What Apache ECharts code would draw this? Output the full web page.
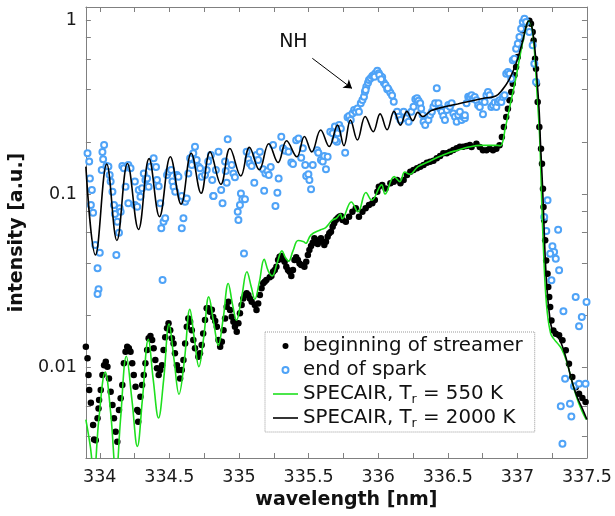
<!DOCTYPE html>
<html><head><meta charset="utf-8">
<script src="https://cdn.jsdelivr.net/npm/echarts@6/dist/echarts.min.js"></script>
<style>html,body{margin:0;padding:0;background:#fff}#c{width:615px;height:516px}</style>
</head><body><div id="c"></div>
<script>
// ---- data (wavelength nm, intensity a.u.) ----
const streamer = [[333.900,0.01315],[333.912,0.01127],[333.919,0.00903],[333.924,0.0074],[333.936,0.00625],[333.952,0.00465],[333.959,0.00384],[333.971,0.0038],[333.984,0.00508],[333.991,0.0058],[333.995,0.00648],[334.007,0.0074],[334.019,0.00903],[334.031,0.0103],[334.043,0.01076],[334.055,0.01008],[334.066,0.00864],[334.078,0.00723],[334.091,0.00606],[334.102,0.00508],[334.114,0.00425],[334.126,0.00372],[334.138,0.00567],[334.150,0.00663],[334.162,0.00791],[334.173,0.01055],[334.185,0.0123],[334.197,0.01315],[334.209,0.01288],[334.221,0.0123],[334.233,0.01055],[334.244,0.00903],[334.257,0.00773],[334.269,0.00567],[334.276,0.00486],[334.280,0.00554],[334.292,0.00677],[334.304,0.00791],[334.316,0.00903],[334.328,0.01055],[334.340,0.01259],[334.351,0.0147],[334.364,0.01516],[334.376,0.01437],[334.387,0.01288],[334.399,0.01102],[334.411,0.00987],[334.423,0.00903],[334.435,0.00965],[334.447,0.0103],[334.458,0.01259],[334.470,0.0149],[334.483,0.0168],[334.494,0.01795],[334.506,0.0164],[334.518,0.0147],[334.530,0.01375],[334.540,0.01205],[334.554,0.0103],[334.565,0.00965],[334.577,0.00864],[334.589,0.00965],[334.601,0.01102],[334.613,0.01375],[334.625,0.01715],[334.636,0.01917],[334.649,0.01833],[334.661,0.0164],[334.672,0.01437],[334.684,0.01288],[334.708,0.01151],[334.720,0.01205],[334.732,0.01345],[334.743,0.0157],[334.756,0.01875],[334.768,0.0219],[334.779,0.0219],[334.791,0.02094],[334.805,0.0215],[334.815,0.0195],[334.829,0.0185],[334.841,0.01715],[334.853,0.01437],[334.865,0.01315],[334.877,0.01406],[334.889,0.0164],[334.900,0.01917],[334.912,0.02238],[334.924,0.0239],[334.936,0.02142],[334.948,0.0196],[334.960,0.01833],[334.971,0.01715],[334.984,0.01605],[334.996,0.01795],[335.007,0.0205],[335.019,0.02288],[335.031,0.025],[335.043,0.02614],[335.055,0.02673],[335.067,0.02614],[335.078,0.025],[335.091,0.0239],[335.114,0.02288],[335.126,0.02142],[335.138,0.0234],[335.150,0.02614],[335.162,0.02857],[335.174,0.03053],[335.185,0.0312],[335.197,0.0319],[335.221,0.03306],[335.233,0.03365],[335.245,0.03562],[335.257,0.0364],[335.269,0.03806],[335.281,0.0416],[335.292,0.04348],[335.304,0.04387],[335.316,0.04198],[335.328,0.04065],[335.340,0.03806],[335.352,0.0364],[335.364,0.03562],[335.376,0.03365],[335.388,0.0364],[335.399,0.0416],[335.411,0.04312],[335.423,0.0416],[335.435,0.0398],[335.447,0.0389],[335.470,0.03806],[335.483,0.04065],[335.495,0.04446],[335.506,0.04753],[335.518,0.0501],[335.530,0.05236],[335.542,0.05552],[335.554,0.05236],[335.566,0.05145],[335.577,0.05428],[335.589,0.05552],[335.602,0.0531],[335.613,0.0508],[335.625,0.0531],[335.637,0.05671],[335.649,0.05931],[335.661,0.06059],[335.673,0.06476],[335.684,0.06776],[335.696,0.07079],[335.708,0.0724],[335.720,0.07396],[335.732,0.07468],[335.744,0.07079],[335.768,0.06918],[335.791,0.07396],[335.815,0.07907],[335.839,0.08269],[335.862,0.07396],[335.887,0.07907],[335.910,0.08269],[335.934,0.08642],[335.958,0.08839],[335.976,0.09235],[335.994,0.1031],[336.005,0.1102],[336.029,0.1127],[336.053,0.1078],[336.088,0.1153],[336.112,0.1178],[336.136,0.1205],[336.160,0.1153],[336.183,0.1205],[336.207,0.1288],[336.231,0.1345],[336.254,0.1375],[336.279,0.1407],[336.302,0.1438],[336.326,0.147],[336.350,0.1516],[336.373,0.1536],[336.397,0.1557],[336.421,0.1607],[336.445,0.1657],[336.468,0.1718],[336.493,0.1718],[336.516,0.1754],[336.540,0.1795],[336.564,0.1836],[336.587,0.1875],[336.611,0.1875],[336.635,0.1892],[336.659,0.1919],[336.671,0.1866],[336.706,0.195],[336.730,0.1866],[336.753,0.1788],[336.778,0.1788],[336.801,0.1825],[336.825,0.1788],[336.849,0.1825],[336.872,0.191],[336.889,0.2133],[336.903,0.2435],[336.920,0.278],[336.932,0.3105],[336.944,0.3472],[336.956,0.3878],[336.967,0.433],[336.979,0.484],[336.991,0.5405],[337.003,0.6173],[337.015,0.705],[337.027,0.787],[337.039,0.880],[337.051,0.941],[337.070,0.996],[337.086,1.0],[337.098,0.961],[337.110,0.861],[337.117,0.770],[337.127,0.604],[337.134,0.529],[337.141,0.433],[337.146,0.3395],[337.158,0.2435],[337.170,0.1825],[337.177,0.1495],[337.184,0.1073],[337.188,0.0841],[337.193,0.0705],[337.200,0.0541],[337.207,0.04143],[337.217,0.03468],[337.222,0.02906],[337.229,0.02545],[337.236,0.02228],[337.245,0.01867],[337.259,0.01634],[337.276,0.01563],[337.300,0.0153],[337.324,0.01432],[337.348,0.01254],[337.371,0.0105],[337.395,0.00879],[337.419,0.00769],[337.443,0.00704],[337.467,0.00665],[337.490,0.00631]];

const spark = [[333.912,0.172],[333.924,0.154],[333.929,0.123],[333.943,0.1055],[333.936,0.0865],[333.952,0.078],[333.967,0.0508],[333.984,0.0373],[334.000,0.0458],[333.991,0.0282],[333.984,0.0265],[334.019,0.175],[334.031,0.192],[334.024,0.159],[334.014,0.1375],[334.048,0.145],[334.062,0.144],[334.071,0.1287],[334.078,0.118],[334.091,0.103],[334.102,0.0865],[334.109,0.0767],[334.126,0.0692],[334.138,0.0598],[334.119,0.0445],[334.143,0.0827],[334.150,0.079],[334.162,0.145],[334.173,0.141],[334.185,0.110],[334.205,0.0884],[334.205,0.147],[334.221,0.141],[334.252,0.118],[334.252,0.0865],[334.269,0.0845],[334.280,0.1055],[334.292,0.0965],[334.304,0.108],[334.316,0.1316],[334.328,0.1205],[334.340,0.123],[334.351,0.110],[334.364,0.144],[334.387,0.161],[334.404,0.143],[334.411,0.1205],[334.423,0.111],[334.435,0.0884],[334.442,0.0634],[334.458,0.0692],[334.470,0.0724],[334.451,0.0319],[334.483,0.1287],[334.494,0.1345],[334.513,0.1375],[334.522,0.118],[334.530,0.110],[334.542,0.103],[334.554,0.1287],[334.565,0.126],[334.589,0.0973],[334.601,0.0724],[334.589,0.0634],[334.613,0.0903],[334.625,0.0944],[334.636,0.1316],[334.649,0.161],[334.661,0.147],[334.672,0.172],[334.684,0.1875],[334.696,0.157],[334.708,0.144],[334.720,0.141],[334.732,0.126],[334.756,0.1287],[334.768,0.1375],[334.779,0.154],[334.798,0.168],[334.808,0.1205],[334.815,0.0973],
[334.817,0.0973],[334.853,0.1755],[334.834,0.1375],[334.872,0.1055],[334.882,0.0884],[334.900,0.154],[334.905,0.136],[334.912,0.1162],[334.919,0.207],[334.948,0.147],[334.960,0.1316],[334.971,0.125],[335.014,0.1006],[335.007,0.0865],[335.024,0.0933],[335.043,0.0933],[334.991,0.079],[334.996,0.0708],[335.036,0.0454],[335.055,0.1755],[335.067,0.159],[335.078,0.150],[335.091,0.145],[335.110,0.1162],[335.126,0.168],[335.138,0.157],[335.150,0.1755],[335.174,0.139],[335.181,0.1045],[335.190,0.1316],[335.205,0.136],[335.214,0.1287],[335.228,0.143],[335.245,0.192],[335.262,0.0853],[335.276,0.1017],[335.285,0.123],[335.304,0.214],[335.316,0.1836],[335.333,0.178],[335.356,0.1755],[335.376,0.152],[335.388,0.149],[335.411,0.2045],[335.428,0.209],[335.447,0.162],[335.459,0.1836],[335.476,0.147],[335.483,0.127],[335.499,0.130],[335.506,0.1205],[335.518,0.1065],[335.530,0.147],[335.561,0.179],[335.570,0.173],[335.589,0.157],[335.602,0.154],[335.613,0.166],[335.625,0.139],[335.637,0.164],[335.656,0.229],[335.673,0.2245],[335.689,0.245],[335.704,0.2005],[335.720,0.250],
[335.691,0.205],[335.708,0.224],[335.732,0.239],[335.763,0.173],[335.780,0.277],[335.791,0.282],[335.803,0.267],[335.815,0.292],[335.827,0.305],[335.839,0.2985],[335.851,0.312],[335.862,0.2985],[335.875,0.334],[335.887,0.349],[335.898,0.364],[335.905,0.389],[335.915,0.416],[335.927,0.4385],[335.934,0.455],[335.946,0.4655],[335.958,0.480],[335.969,0.486],[335.981,0.497],[335.994,0.5145],[336.005,0.497],[336.017,0.480],[336.029,0.4715],[336.041,0.4385],[336.053,0.4255],[336.065,0.402],[336.076,0.398],[336.088,0.384],[336.112,0.341],[336.136,0.2985],[336.148,0.279],[336.160,0.267],[336.183,0.2985],[336.200,0.2735],[336.219,0.261],[336.238,0.2985],[336.254,0.319],[336.267,0.352],[336.279,0.3566],[336.290,0.3454],[336.302,0.334],[336.309,0.312],[336.319,0.2855],[336.326,0.261],[336.338,0.250],[336.361,0.267],[336.373,0.2855],[336.386,0.2985],[336.397,0.319],[336.409,0.334],[336.421,0.4074],[336.433,0.334],[336.445,0.312],[336.457,0.2985],[336.468,0.282],[336.480,0.267],[336.493,0.305],[336.504,0.3264],[336.516,0.319],[336.528,0.334],[336.540,0.292],[336.552,0.279],[336.564,0.261],[336.575,0.2855],[336.587,0.2985],[336.599,0.267],[336.611,0.279],[336.623,0.2735],[336.635,0.334],[336.647,0.364],
[335.910,0.398],[335.974,0.475],[336.008,0.486],[336.022,0.46],[336.069,0.4074],[336.100,0.37],
[336.623,0.2845],[336.659,0.3629],[336.671,0.371],[336.682,0.3548],[336.694,0.3629],[336.706,0.3472],[336.718,0.325],[336.730,0.3178],[336.753,0.2884],[336.765,0.3395],[336.778,0.371],[336.789,0.3878],[336.801,0.371],[336.813,0.3178],[336.825,0.325],[336.837,0.337],[336.849,0.3178],[336.860,0.3395],[336.872,0.3472],[336.885,0.3395],[336.896,0.3629],[336.908,0.371],[336.920,0.4946],[336.932,0.5058],[336.944,0.4946],[336.956,0.4628],[336.967,0.591],[336.979,0.604],[336.991,0.689],[337.003,0.7366],[337.015,0.805],[337.027,0.899],[337.039,0.983],[337.051,1.027],[337.063,0.983],[337.086,0.861],[337.110,0.721],[337.122,0.565],[337.134,0.443],
[337.217,0.092],[337.193,0.0736],[337.208,0.0613],[337.293,0.0622],[337.252,0.0499],[337.264,0.0463],[337.276,0.0423],[337.236,0.0452],[337.300,0.0363],[337.245,0.0318],[337.419,0.0255],[337.497,0.0238],[337.331,0.0211],[337.463,0.0195],[337.443,0.01724],[337.343,0.00859],[337.312,0.00596],[337.378,0.00617],[337.388,0.00521],[337.407,0.00777],[337.443,0.00804],[337.490,0.00804],[337.324,0.00362]];

const specair550 = [[333.900,0.0050],[333.932,0.0035],[333.957,0.0024],[333.993,0.005],[334.039,0.0094],[334.078,0.0055],[334.117,0.0024],[334.149,0.005],[334.191,0.0116],[334.231,0.0065],[334.270,0.0035],[334.306,0.0065],[334.349,0.0145],[334.384,0.0085],[334.422,0.0051],[334.459,0.0085],[334.498,0.0178],[334.534,0.011],[334.569,0.0070],[334.608,0.011],[334.647,0.0216],[334.680,0.0145],[334.712,0.0101],[334.747,0.015],[334.783,0.0255],[334.819,0.018],[334.851,0.0134],[334.886,0.019],[334.923,0.0305],[334.954,0.023],[334.982,0.0187],[335.018,0.025],[335.057,0.0356],[335.089,0.029],[335.114,0.0247],[335.146,0.031],[335.181,0.042],[335.210,0.036],[335.238,0.0337],[335.274,0.04],[335.309,0.047],[335.334,0.043],[335.356,0.041],[335.388,0.047],[335.425,0.054],[335.466,0.053],[335.480,0.052],[335.516,0.058],[335.587,0.0622],[335.623,0.064],[335.670,0.0707],[335.700,0.0725],[335.729,0.0767],[335.741,0.072],[335.807,0.090],[335.855,0.079],[335.912,0.102],[335.954,0.092],[336.025,0.113],[336.049,0.100],[336.115,0.126],[336.156,0.118],[336.191,0.134],[336.227,0.13],[336.286,0.144],[336.357,0.153],[336.428,0.163],[336.499,0.172],[336.570,0.179],[336.642,0.186],[336.737,0.191],[336.855,0.191],[336.879,0.190],[336.915,0.244],[336.950,0.332],[336.986,0.453],[337.022,0.645],[337.057,0.88],[337.081,1.0],[337.104,0.92],[337.121,0.70],[337.140,0.397],[337.159,0.223],[337.169,0.131],[337.178,0.0772],[337.187,0.0497],[337.199,0.0305],[337.216,0.0204],[337.239,0.0157],[337.259,0.0147],[337.287,0.0138],[337.318,0.0128],[337.353,0.0109],[337.389,0.0085],[337.424,0.0068],[337.460,0.0057],[337.495,0.0050]];

const specair2000 = [[333.900,0.144],[333.969,0.0445],[334.050,0.149],[334.123,0.054],[334.199,0.150],[334.278,0.0625],[334.354,0.160],[334.429,0.074],[334.507,0.164],[334.584,0.0875],[334.657,0.172],[334.728,0.101],[334.792,0.175],[334.870,0.114],[334.935,0.183],[335.013,0.127],[335.075,0.186],[335.146,0.138],[335.214,0.195],[335.281,0.152],[335.342,0.203],[335.416,0.164],[335.470,0.215],[335.523,0.175],[335.587,0.234],[335.648,0.188],[335.708,0.25],[335.754,0.19],[335.801,0.267],[335.851,0.205],[335.907,0.28],[335.964,0.229],[336.014,0.29],[336.064,0.235],[336.114,0.30],[336.160,0.25],[336.206,0.30],[336.249,0.265],[336.285,0.296],[336.320,0.28],[336.382,0.303],[336.477,0.319],[336.571,0.331],[336.643,0.341],[336.750,0.356],[336.845,0.368],[336.892,0.399],[336.940,0.455],[336.987,0.555],[337.034,0.74],[337.070,0.966],[337.085,1.0],[337.103,0.93],[337.125,0.70],[337.142,0.45],[337.157,0.30],[337.167,0.19],[337.178,0.125],[337.189,0.075],[337.199,0.045],[337.210,0.031],[337.224,0.0225],[337.242,0.0175],[337.260,0.0158],[337.281,0.0152],[337.302,0.0145],[337.324,0.0132],[337.352,0.0112],[337.381,0.009],[337.409,0.0075],[337.438,0.0065],[337.466,0.0058],[337.5,0.0050]];

const seriesNames = ['beginning of streamer', 'end of spark', 'SPECAIR, T_r = 550 K', 'SPECAIR, T_r = 2000 K'];
const xTickValues = [334, 334.25, 334.5, 334.75, 335, 335.25, 335.5, 335.75, 336, 336.25, 336.5, 336.75, 337, 337.25, 337.5];
const xLabelValues = [334, 334.5, 335, 335.5, 336, 336.5, 337, 337.5];
const yTickValues = [0.004, 0.006, 0.008, 0.01, 0.02, 0.04, 0.06, 0.08, 0.1, 0.2, 0.4, 0.6, 0.8, 1];
const yLabelValues = [0.01, 0.1, 1];
const nhLabel = {text: 'NH', at: [335.391, 0.754]};
const nhArrow = [[335.527, 0.607], [335.812, 0.407]];

// ---- chart ----
const FONT = 'DejaVu Sans';
const AXC = '#808080';
const LINE_ICON = 'path://M0 0L25 0L25 1.6L0 1.6Z';
const chart = echarts.init(document.getElementById('c'), null, {renderer: 'canvas'});

function xAx(pos, labels) {
  return {
    type: 'value', position: pos, min: 333.9, max: 337.5,
    axisLine: {show: true, onZero: false, lineStyle: {color: AXC, width: 1}},
    axisTick: {show: true, inside: true, length: 5, customValues: xTickValues, lineStyle: {color: AXC}},
    axisLabel: {show: labels, customValues: xLabelValues, margin: 10, fontSize: 17.5, fontFamily: FONT, color: '#1a1a1a',
      formatter: v => String(v)},
    splitLine: {show: false},
    name: labels ? 'wavelength [nm]' : '', nameLocation: 'middle', nameGap: 31,
    nameTextStyle: {fontWeight: 'bold', fontSize: 19, fontFamily: FONT, color: '#111', padding: [0, 0, 0, 20]}
  };
}
function yAx(pos, labels) {
  return {
    type: 'log', logBase: 10, position: pos, min: 0.003, max: 1.2,
    axisLine: {show: true, onZero: false, lineStyle: {color: AXC, width: 1}},
    axisTick: {show: true, inside: true, length: 5, customValues: yTickValues, lineStyle: {color: AXC}},
    axisLabel: {show: labels, customValues: yLabelValues, margin: 9, fontSize: 17.5, fontFamily: FONT, color: '#1a1a1a',
      formatter: v => String(v)},
    splitLine: {show: false}, minorTick: {show: false},
    name: labels ? 'intensity [a.u.]' : '', nameLocation: 'middle', nameGap: 50,
    nameTextStyle: {fontWeight: 'bold', fontSize: 19, fontFamily: FONT, color: '#111'}
  };
}

chart.setOption({
  animation: false,
  backgroundColor: '#fff',
  grid: {left: 83, right: 26, top: 7, bottom: 58, containLabel: false},
  xAxis: [xAx('bottom', true), xAx('top', false)],
  yAxis: [yAx('left', true), yAx('right', false)],
  legend: {
    left: 265, top: 332, orient: 'vertical',
    itemWidth: 25, itemHeight: 6, itemGap: 0,
    padding: [2, 12, 2, 8],
    borderColor: '#999', borderWidth: 1, borderType: 'dotted', backgroundColor: '#fff',
    textStyle: {fontSize: 19.8, fontFamily: FONT, color: '#111', lineHeight: 24,
      rich: {sub: {fontSize: 12.5, fontFamily: FONT, color: '#111', lineHeight: 24, verticalAlign: 'bottom'}}},
    formatter: name => name.replace('T_r', 'T{sub|r}'),
    data: [
      {name: seriesNames[0], icon: 'circle'},
      {name: seriesNames[1], icon: 'emptyCircle', itemStyle: {borderWidth: 1}},
      {name: seriesNames[2], icon: LINE_ICON},
      {name: seriesNames[3], icon: LINE_ICON}
    ]
  },
  series: [
    {name: seriesNames[0], type: 'scatter', xAxisIndex: 0, yAxisIndex: 0, data: streamer,
      symbol: 'circle', symbolSize: 6.5, itemStyle: {color: '#000', opacity: 1}, z: 2},
    {name: seriesNames[1], type: 'scatter', xAxisIndex: 0, yAxisIndex: 0, data: spark,
      symbol: 'emptyCircle', symbolSize: 6, itemStyle: {color: '#4fa3f7', borderColor: '#4fa3f7', borderWidth: 1, opacity: 1}, z: 3},
    {name: seriesNames[2], type: 'line', xAxisIndex: 0, yAxisIndex: 0, data: specair550,
      symbol: 'none', showSymbol: false, smooth: 0.4, lineStyle: {color: '#1ee01e', width: 1.6}, itemStyle: {color: '#1ee01e'}, z: 4},
    {name: seriesNames[3], type: 'line', xAxisIndex: 0, yAxisIndex: 0, data: specair2000,
      symbol: 'none', showSymbol: false, smooth: 0.4, lineStyle: {color: '#000', width: 1.6}, itemStyle: {color: '#000'}, z: 5,
      markLine: {silent: true, symbol: ['none', 'arrow'], symbolSize: 8, animation: false,
        lineStyle: {color: '#000', width: 1, type: 'solid'}, label: {show: false},
        data: [[{coord: nhArrow[0]}, {coord: nhArrow[1]}]]},
      markPoint: {silent: true, animation: false,
        data: [{coord: nhLabel.at, symbol: 'circle', symbolSize: 1, itemStyle: {color: 'rgba(0,0,0,0)'},
          label: {show: true, position: 'inside', formatter: nhLabel.text, color: '#111', fontSize: 19, fontFamily: FONT}}]}}
  ]
});
</script></body></html>
